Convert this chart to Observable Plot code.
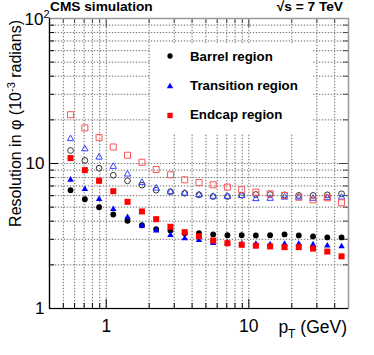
<!DOCTYPE html>
<html><head><meta charset="utf-8">
<script src="https://cdn.jsdelivr.net/npm/d3@7"></script>
<script src="https://cdn.jsdelivr.net/npm/@observablehq/plot@0.6"></script>
<style>body{margin:0;background:#fff;} #chart{position:relative;width:374px;height:355px;}</style>
</head><body><div id="chart"></div>
<script>
// ---- data ----
const pT = [0.562, 0.708, 0.891, 1.12, 1.41, 1.78, 2.24, 2.82, 3.55, 4.47, 5.62, 7.08, 8.91, 11.2, 14.1, 17.8, 22.4, 28.2, 35.5, 44.7];
const barrelFilled     = [6.55, 5.67, 5.0, 4.45, 4.03, 3.75, 3.52, 3.45, 3.3, 3.31, 3.24, 3.2, 3.2, 3.19, 3.2, 3.24, 3.19, 3.14, 3.09, 3.09];
const transitionFilled = [7.72, 6.65, 5.67, 4.84, 4.26, 3.72, 3.45, 3.2, 3.04, 2.96, 2.82, 2.85, 2.79, 2.79, 2.76, 2.79, 2.79, 2.76, 2.71, 2.68];
const endcapFilled     = [10.9, 9.0, 7.6, 6.44, 5.44, 4.67, 4.13, 3.66, 3.36, 3.15, 2.94, 2.82, 2.75, 2.71, 2.68, 2.65, 2.65, 2.59, 2.47, 2.29];
const barrelOpen       = [12.3, 10.5, 9.28, 8.3, 7.6, 7.09, 6.55, 6.38, 6.24, 6.08, 5.92, 5.92, 6.05, 6.11, 6.11, 6.08, 6.02, 6.02, 6.08, 6.18];
const transitionOpen   = [14.8, 12.6, 11.05, 9.53, 8.44, 7.39, 6.75, 6.38, 6.24, 6.08, 5.92, 5.92, 6.0, 5.71, 5.74, 5.85, 5.85, 5.74, 5.8, 5.85];
const endcapOpen       = [21.7, 17.6, 15.1, 13.0, 11.4, 10.2, 9.09, 8.36, 7.72, 7.39, 7.13, 6.87, 6.59, 6.34, 6.18, 6.02, 5.85, 5.62, 5.8, 5.36];

const xMajor = [1, 10];
const xMinor = [0.5, 0.6, 0.7, 0.8, 0.9, 2, 3, 4, 5, 6, 7, 8, 9, 20, 30, 40];
const yMajor = [10];
const yMinor = [2, 3, 4, 5, 6, 7, 8, 9, 20, 30, 40, 50, 60, 70, 80, 90];
const xGrid = [...xMinor, ...xMajor];
const yGrid = [...yMinor, ...yMajor];
const yLabels = [1, 10];
const legendLabels = ["Barrel region", "Transition region", "Endcap region"];
const legendColors = ["#000000", "#0000ff", "#ff0000"];

const W = 374, H = 355, mL = 49, mR = 26, mT = 18, mB = 47;
const fw = W - mL - mR, fh = H - mT - mB;
const font = "'Liberation Sans', Arial, Helvetica, sans-serif";

function series(vals, opts) {
  return Plot.dot(pT, {x: d => d, y: (d, i) => vals[i], ...opts});
}

const plot = Plot.plot({
  width: W, height: H,
  marginLeft: mL, marginRight: mR, marginTop: mT, marginBottom: mB,
  x: {type: "log", domain: [0.4, 50]},
  y: {type: "log", domain: [1, 100]},
  style: {fontFamily: font, background: "white", color: "black"},
  marks: [
    Plot.ruleX(xGrid, {x: d => d, stroke: "#e2e2e2", strokeWidth: 1}),
    Plot.ruleY(yGrid, {y: d => d, stroke: "#e2e2e2", strokeWidth: 1}),
    Plot.ruleX(xGrid, {x: d => d, stroke: "#777", strokeDasharray: "1,2", strokeWidth: 1}),
    Plot.ruleY(yGrid, {y: d => d, stroke: "#777", strokeDasharray: "1,2", strokeWidth: 1}),
    // ticks (inside, ROOT style)
    Plot.ruleX(xMajor, {x: d => d, insetTop: fh - 9, stroke: "#000"}),
    Plot.ruleX(xMinor, {x: d => d, insetTop: fh - 5, stroke: "#000"}),
    Plot.ruleX(xMajor, {x: d => d, insetBottom: fh - 9, stroke: "#444"}),
    Plot.ruleX(xMinor, {x: d => d, insetBottom: fh - 5, stroke: "#444"}),
    Plot.ruleY(yMajor, {y: d => d, insetRight: fw - 9, stroke: "#000"}),
    Plot.ruleY(yMinor, {y: d => d, insetRight: fw - 5, stroke: "#000"}),
    Plot.ruleY(yMajor, {y: d => d, insetLeft: fw - 9, stroke: "#444"}),
    Plot.ruleY(yMinor, {y: d => d, insetLeft: fw - 5, stroke: "#444"}),
    Plot.frame({stroke: "#999", strokeWidth: 1.5}),
    Plot.axisX(xMajor, {tickSize: 0, tickPadding: 11, fontSize: 17.5, tickFormat: d => String(d), label: null}),
    Plot.axisY(yLabels, {tickSize: 0, tickPadding: 5, fontSize: 17, tickFormat: d => String(d), label: null}),
    Plot.ruleX([0.4], {x: d => d, stroke: "#000", strokeWidth: 1.2}),
    Plot.ruleY([1], {y: d => d, stroke: "#000", strokeWidth: 1.2}),
    // open markers
    series(barrelOpen, {symbol: "circle", r: 2.9, stroke: "#333", strokeWidth: 1, fill: "none"}),
    series(transitionOpen, {symbol: "triangle", r: 2.4, stroke: "#3344ff", strokeWidth: 1, fill: "none"}),
    series(endcapOpen, {symbol: "square", r: 3.4, stroke: "#ff5555", strokeWidth: 1, fill: "none"}),
    // filled markers
    series(barrelFilled, {symbol: "circle", r: 2.9, fill: "#000"}),
    series(transitionFilled, {symbol: "triangle", r: 2.4, fill: "#0000ff"}),
    series(endcapFilled, {symbol: "square", r: 3.4, fill: "#ff0000"})
  ]
});

const svg = d3.select(plot);
// legend box
const lg = svg.append("g");
lg.append("rect").attr("x", 150).attr("y", 43).attr("width", 163).attr("height", 90).attr("fill", "white");
const symTypes = [d3.symbolCircle, d3.symbolTriangle, d3.symbolSquare];
const symSizes = [22, 18, 28];
legendLabels.forEach((lab, i) => {
  const cy = [56, 86.5, 115.5][i];
  lg.append("path").attr("d", d3.symbol(symTypes[i], symSizes[i])())
    .attr("transform", `translate(170,${cy})`).attr("fill", legendColors[i]);
  lg.append("text").attr("x", 190).attr("y", [60.7, 90, 119.3][i]).attr("text-anchor", "start")
    .attr("font-family", font).attr("font-weight", "bold").attr("font-size", 13.3)
    .text(lab);
});
// header texts
svg.append("text").attr("x", 50).attr("y", 11).attr("text-anchor", "start").attr("font-family", font).attr("font-weight", "bold")
  .attr("font-size", 13.7).text("CMS simulation");
svg.append("text").attr("x", 343).attr("y", 11).attr("text-anchor", "end").attr("font-family", font)
  .attr("font-weight", "bold").attr("font-size", 13.7).text("√s = 7 TeV");
// 10^2 label
const t100 = svg.append("text").attr("x", 24.5).attr("y", 25).attr("text-anchor", "start").attr("font-family", font).attr("font-size", 17);
t100.append("tspan").text("10");
t100.append("tspan").attr("font-size", 11).attr("dy", -7).text("2");
// x title
const xt = svg.append("text").attr("x", 347).attr("y", 333).attr("text-anchor", "end")
  .attr("font-family", font).attr("font-size", 17.5);
xt.append("tspan").text("p");
xt.append("tspan").attr("font-size", 12).attr("dy", 5).text("T");
xt.append("tspan").attr("dy", -5).text(" (GeV)");
// y title
const yt = svg.append("text").attr("transform", "translate(21,20) rotate(-90)").attr("text-anchor", "end")
  .attr("font-family", font).attr("font-size", 16);
yt.append("tspan").text("Resolution in φ (10");
yt.append("tspan").attr("font-size", 11).attr("dy", -6).text("-3");
yt.append("tspan").attr("dy", 6).text(" radians)");

document.getElementById("chart").appendChild(plot);
</script></body></html>
